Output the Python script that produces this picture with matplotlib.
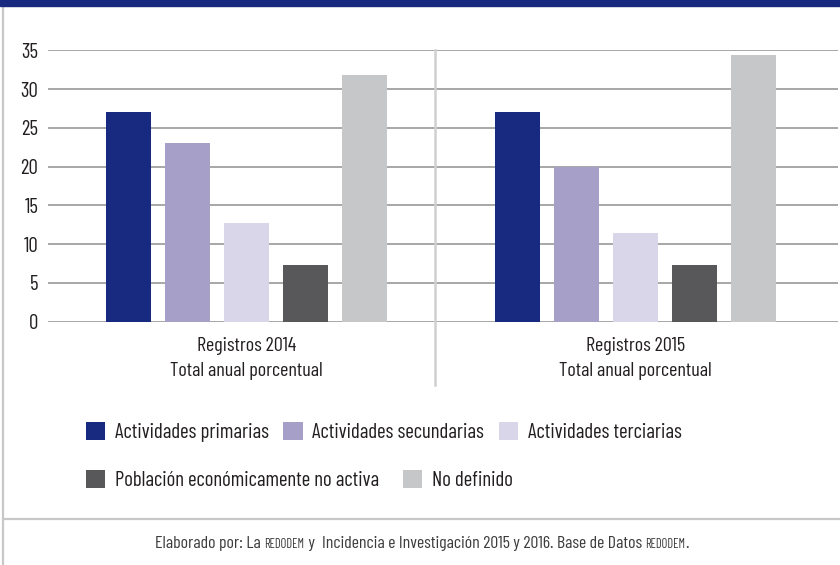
import matplotlib
matplotlib.use("Agg")
import matplotlib.pyplot as plt
import matplotlib.transforms as mtransforms
from matplotlib.patches import Rectangle, Patch
from matplotlib.lines import Line2D
import numpy as np

# Datos
grupos = ["Registros 2014\nTotal anual porcentual", "Registros 2015\nTotal anual porcentual"]
series = ["Actividades primarias", "Actividades secundarias", "Actividades terciarias",
          "Población económicamente no activa", "No definido"]
valores_2014 = [27.0, 23.0, 12.7, 7.3, 31.8]
valores_2015 = [27.0, 20.0, 11.4, 7.3, 34.4]
colores = ["#172a80", "#a69fc8", "#d9d6ea", "#58585a", "#c6c7c9"]
yticks = [0, 5, 10, 15, 20, 25, 30, 35]

fuente = ["Barlow Condensed", "Archivo Narrow", "DejaVu Sans"]
plt.rcParams["font.family"] = fuente
txt = "#231f20"

W, H = 840, 565
fig = plt.figure(figsize=(W / 100, H / 100), dpi=100)

# Eje principal
ax = fig.add_axes([48 / W, (H - 321.7) / H, 790 / W, 271.4 / H])
x = np.arange(len(grupos))
paso, ancho = 0.1517, 0.1157
for i, (serie, color) in enumerate(zip(series, colores)):
    vals = [valores_2014[i], valores_2015[i]]
    ax.bar(x + (i - 2) * paso, vals, width=ancho, color=color, zorder=3, label=serie)

ax.set_xlim(-0.51, 1.52)
ax.set_ylim(0, 35)
ax.set_yticks(yticks)
ax.set_xticks(x)
ax.set_xticklabels(grupos, fontsize=14.5, color=txt, linespacing=1.5)
ax.tick_params(axis="both", length=0, colors=txt)
ax.tick_params(axis="y", pad=7, labelsize=15)
ax.tick_params(axis="x", pad=11, labelsize=14.5)
ax.yaxis.grid(True, color="#a0a0a0", linewidth=1.3, zorder=0)
ax.set_axisbelow(True)
for s in ax.spines.values():
    s.set_visible(False)

# separador entre grupos
trans = mtransforms.blended_transform_factory(ax.transData, ax.transAxes)
ax.add_line(Line2D([0.484, 0.484], [1.0, -0.233], transform=trans, color="#d0d0d0",
                   linewidth=1.8, clip_on=False, zorder=1))

# Leyenda (dos filas)
handles = [Patch(facecolor=c, edgecolor="none") for c in colores]
kw = dict(frameon=False, fontsize=15, handlelength=0.92, handleheight=0.92,
          handletextpad=0.48, borderpad=0, borderaxespad=0,
          labelcolor=txt, loc="center left")
leg1 = fig.legend(handles[:3], series[:3], ncol=3, columnspacing=0.68,
                  bbox_to_anchor=(86 / W, 1 - 432 / H), **kw)
leg2 = fig.legend(handles[3:], series[3:], ncol=2, columnspacing=1.15,
                  bbox_to_anchor=(86 / W, 1 - 480 / H), **kw)

# Banda superior, borde izquierdo y línea del pie
fig.add_artist(Rectangle((0, 1 - 6 / H), 1, 6 / H, transform=fig.transFigure,
                         color="#172a80", zorder=5))
fig.add_artist(Line2D([2.5 / W, 2.5 / W], [0, 1 - 6 / H], transform=fig.transFigure,
                      color="#c8c8c8", linewidth=1.6))
fig.add_artist(Line2D([2.5 / W, 1], [1 - 519 / H, 1 - 519 / H], transform=fig.transFigure,
                      color="#c8c8c8", linewidth=1.6))

# Pie con versalitas para REDODEM
partes = [("Elaborado por: La ", 12.8), ("REDODEM", 9), (" y  Incidencia e Investigación 2015 y 2016. Base de Datos ", 12.8),
          ("REDODEM", 9), (".", 12.8)]
renderer = fig.canvas.get_renderer()
objs = []
for t, tam in partes:
    objs.append(fig.text(0, 1 - 548 / H, t, fontsize=tam, color="#3c3c3c", ha="left", va="baseline"))
anchos = [o.get_window_extent(renderer).width for o in objs]
x0 = (W - sum(anchos)) / 2 + 2
for o, w in zip(objs, anchos):
    o.set_x(x0 / W)
    x0 += w

fig.savefig("out.png", dpi=100)
